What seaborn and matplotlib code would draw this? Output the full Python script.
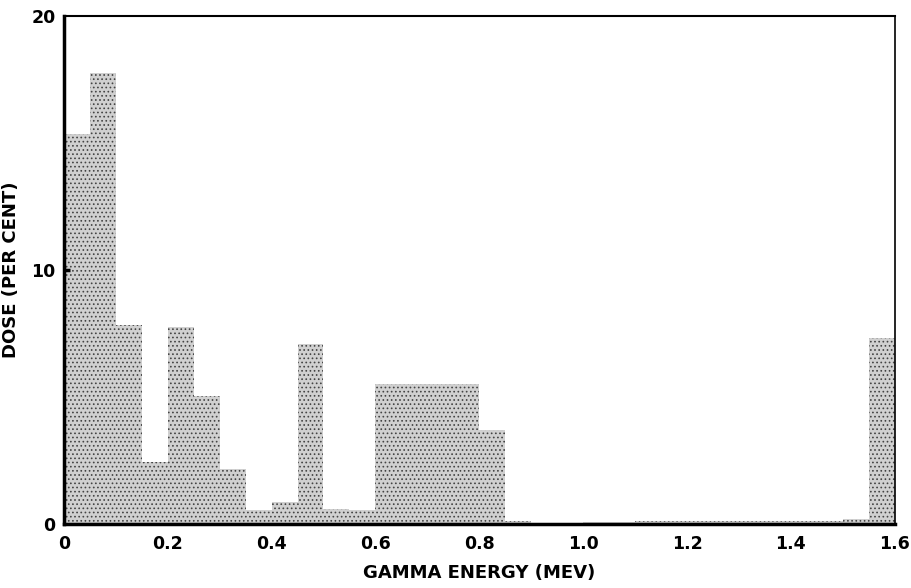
import numpy as np
import matplotlib
matplotlib.use("Agg")
import matplotlib.pyplot as plt
import seaborn as sns

# Bin edges (MeV) and dose per bin (per cent)
bin_edges = [round(0.05 * i, 2) for i in range(33)]
dose = [15.35, 17.75, 7.85, 2.45, 7.75, 5.05, 2.15, 0.55,
        0.85, 7.1, 0.6, 0.55, 5.5, 5.5, 5.5, 5.5,
        3.7, 0.1, 0.0, 0.0, 0.08, 0.08, 0.1, 0.1,
        0.1, 0.1, 0.1, 0.1, 0.1, 0.1, 0.2, 7.3]
x_ticks = [0, 0.2, 0.4, 0.6, 0.8, 1.0, 1.2, 1.4, 1.6]
x_tick_labels = ["0", "0.2", "0.4", "0.6", "0.8", "1.0", "1.2", "1.4", "1.6"]
y_ticks = [0, 10, 20]
y_tick_labels = ["0", "10", "20"]

centers = [(bin_edges[i] + bin_edges[i + 1]) / 2 for i in range(len(dose))]

sns.set_theme(style="white")
plt.rcParams['font.family'] = ['DejaVu Sans']
plt.rcParams['text.color'] = 'black'
plt.rcParams['axes.labelcolor'] = 'black'
plt.rcParams['xtick.color'] = 'black'
plt.rcParams['ytick.color'] = 'black'
plt.rcParams['hatch.color'] = '#333333'
plt.rcParams['hatch.linewidth'] = 0.7

fig = plt.figure(figsize=(9.12, 5.88), dpi=100)
ax = fig.add_axes([0.070, 0.109, 0.911, 0.864])

sns.histplot(x=centers, weights=dose, bins=bin_edges, ax=ax,
             element="bars", fill=True, color="#d0d0d0", alpha=1.0,
             edgecolor="none", linewidth=0)
for p in ax.patches:
    p.set_hatch('....')
    p.set_edgecolor('#444444')
    p.set_linewidth(0)

ax.set_xlim(0, 1.6)
ax.set_ylim(0, 20)
ax.set_xticks(x_ticks)
ax.set_xticklabels(x_tick_labels, fontsize=12.5, fontweight='bold')
ax.set_yticks(y_ticks)
ax.set_yticklabels(y_tick_labels, fontsize=12.5, fontweight='bold')
ax.tick_params(axis='x', length=0, pad=8)
ax.tick_params(axis='y', length=0, pad=6)
# small inward mark at 10
ax.plot([0, 0.012], [10, 10], color='black', lw=2.5, solid_capstyle='butt')

ax.set_xlabel("GAMMA ENERGY (MEV)", fontsize=13, fontweight='bold', labelpad=8)
ax.set_ylabel("DOSE (PER CENT)", fontsize=13, fontweight='bold', labelpad=8)

for side, lw in [('left', 2.5), ('bottom', 2.5), ('top', 1.5), ('right', 1.2)]:
    ax.spines[side].set_visible(True)
    ax.spines[side].set_linewidth(lw)
    ax.spines[side].set_color('black')

fig.savefig("out.png", dpi=100)
